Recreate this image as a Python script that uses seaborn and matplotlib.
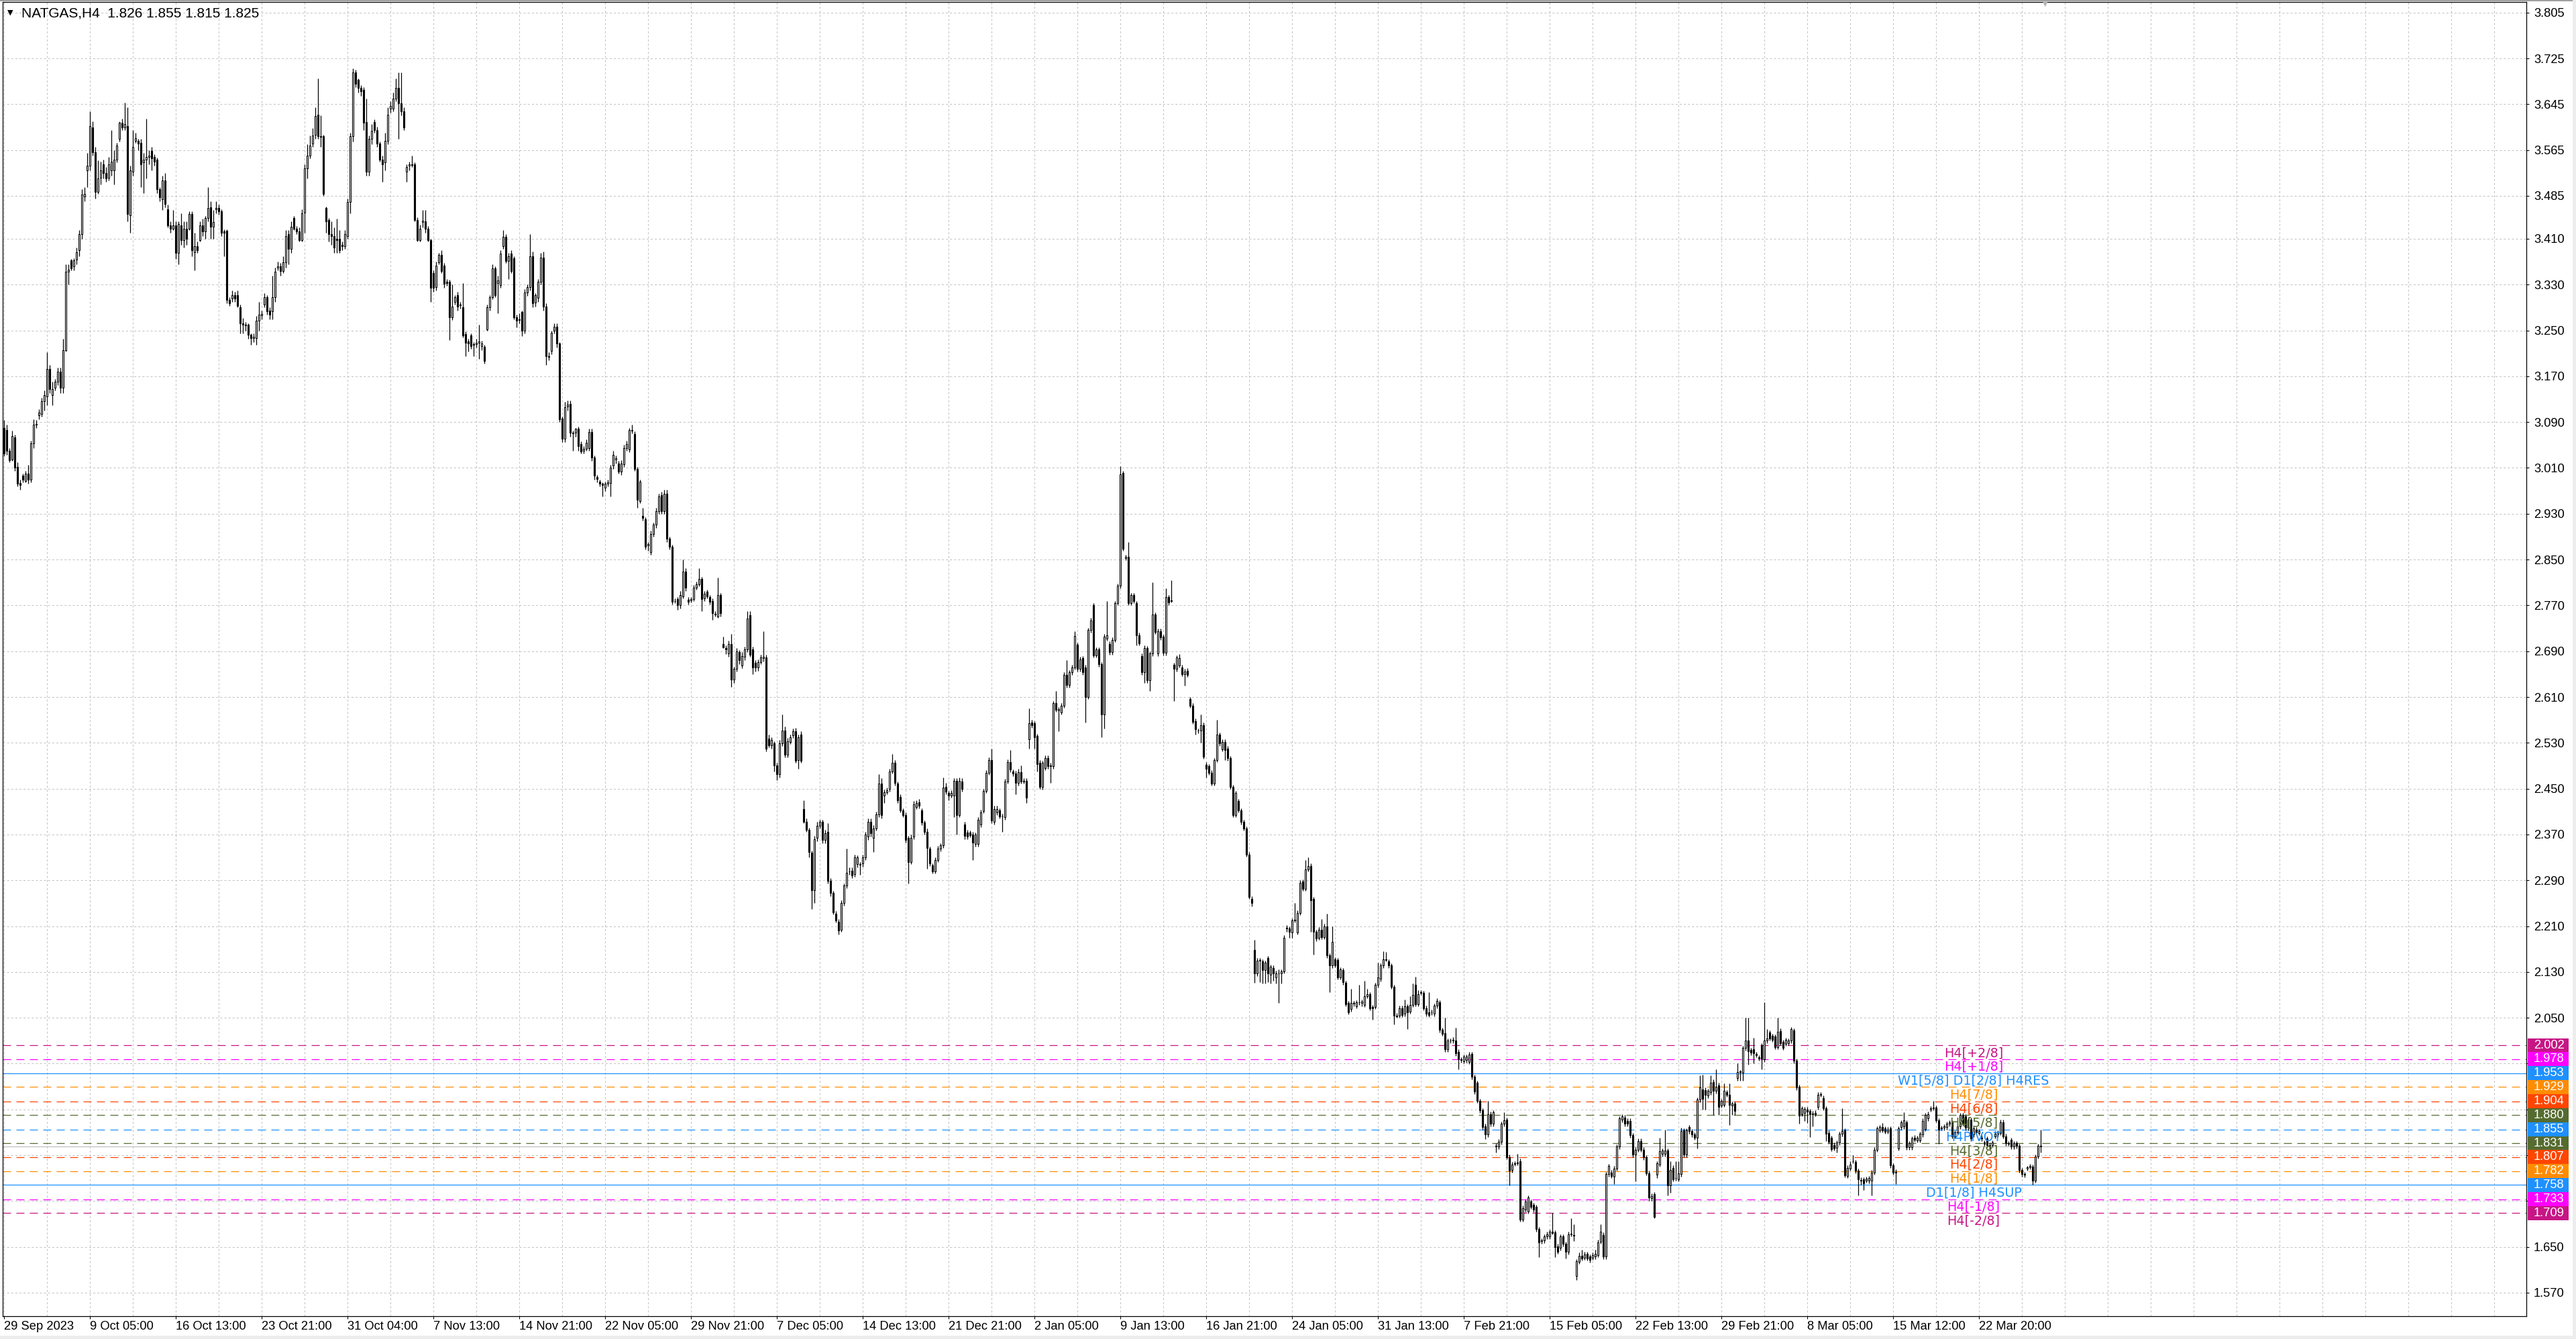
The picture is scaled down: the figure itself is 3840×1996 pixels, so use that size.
import numpy as np
import pandas as pd
import seaborn as sns
import matplotlib
matplotlib.use("Agg")
import matplotlib.pyplot as plt
from matplotlib.patches import Rectangle
import matplotlib.transforms as mtransforms

# ---------------- data (prices in thousandths) ----------------
header_text = "NATGAS,H4  1.826 1.855 1.815 1.825"

opens = [
3080,3076,3040,3025,3063,3012,2984,2997,2987,3000,
2989,3053,3086,3102,3104,3127,3135,3183,3137,3150,
3160,3178,3150,3216,3352,3372,3362,3374,3390,3418,
3484,3530,3538,3604,3561,3492,3517,3540,3525,3517,
3530,3530,3548,3584,3612,3604,3607,3451,3527,3581,
3581,3578,3543,3548,3553,3563,3553,3548,3497,3479,
3512,3461,3433,3428,3433,3385,3433,3408,3428,3428,
3453,3387,3397,3408,3433,3423,3446,3465,3431,3461,
3464,3458,3423,3424,3303,3306,3311,3311,3290,3262,
3260,3260,3243,3237,3237,3267,3276,3295,3308,3285,
3283,3308,3360,3362,3354,3369,3418,3392,3446,3428,
3423,3408,3456,3533,3555,3576,3591,3627,3589,3589,
3464,3443,3418,3415,3410,3410,3400,3397,3415,3474,
3589,3701,3688,3673,3670,3614,3527,3584,3614,3600,
3576,3548,3543,3581,3637,3637,3655,3673,3647,3632,
3527,3538,3540,3540,3443,3408,3439,3441,3428,3408,
3350,3326,3369,3382,3363,3335,3335,3273,3300,3312,
3294,3290,3244,3231,3241,3225,3226,3229,3222,3221,
3252,3290,3308,3358,3333,3329,3397,3414,3371,3384,
3376,3273,3268,3282,3250,3316,3326,3380,3299,3307,
3335,3377,3292,3205,3214,3250,3256,3227,3096,3061,
3117,3122,3071,3071,3078,3052,3040,3043,3045,3073,
3028,2994,2986,2982,2976,2983,2984,3014,3025,3018,
3003,3016,3045,3042,3075,3069,3008,2952,2926,2920,
2875,2863,2895,2911,2935,2963,2935,2965,2886,2872,
2778,2781,2771,2786,2829,2780,2779,2781,2801,2807,
2816,2782,2794,2784,2778,2755,2750,2788,2702,2695,
2686,2702,2640,2659,2688,2665,2680,2693,2753,2693,
2670,2661,2671,2678,2679,2537,2526,2529,2491,2475,
2529,2552,2509,2532,2543,2550,2500,2545,2415,2392,
2378,2338,2273,2364,2385,2392,2360,2375,2289,2268,
2232,2218,2204,2251,2281,2305,2307,2301,2318,2317,
2319,2330,2366,2392,2364,2381,2405,2459,2438,2444,
2449,2480,2495,2459,2435,2412,2404,2364,2322,2366,
2418,2426,2412,2391,2375,2345,2316,2306,2326,2345,
2351,2453,2442,2438,2438,2464,2404,2462,2387,2373,
2373,2370,2353,2353,2387,2411,2446,2478,2500,2392,
2408,2412,2402,2400,2463,2497,2480,2477,2460,2479,
2463,2464,2536,2565,2564,2542,2495,2453,2486,2504,
2491,2489,2599,2587,2583,2595,2649,2631,2653,2662,
2701,2659,2678,2662,2610,2727,2770,2683,2693,2667,
2580,2712,2703,2688,2710,2774,2804,3001,2853,2855,
2774,2788,2774,2718,2682,2653,2695,2639,2686,2754,
2686,2725,2715,2687,2784,2779,2666,2659,2665,2662,
2650,2656,2606,2595,2568,2551,2551,2561,2492,2489,
2478,2459,2500,2544,2519,2532,2520,2503,2453,2404,
2428,2412,2392,2380,2335,2258,2169,2127,2150,2148,
2133,2154,2125,2137,2120,2128,2128,2131,2206,2206,
2199,2220,2199,2233,2288,2275,2309,2315,2257,2200,
2190,2204,2191,2210,2159,2141,2152,2151,2121,2133,
2111,2076,2065,2076,2070,2077,2076,2073,2088,2091,
2069,2069,2107,2118,2141,2152,2148,2141,2104,2054,
2054,2067,2057,2070,2061,2073,2107,2074,2094,2093,
2067,2059,2060,2057,2071,2077,2029,2023,1995,2010,
2010,2010,1991,1977,1974,1976,1973,1987,1947,1936,
1905,1888,1861,1846,1882,1865,1827,1825,1833,1865,
1872,1807,1784,1795,1796,1800,1698,1715,1712,1729,
1723,1720,1681,1661,1661,1668,1668,1676,1675,1651,
1648,1668,1655,1641,1672,1671,1599,1624,1634,1631,
1638,1633,1631,1633,1636,1659,1671,1633,1777,1780,
1773,1787,1825,1872,1876,1870,1870,1845,1811,1820,
1835,1820,1806,1779,1735,1742,1776,1794,1812,1812,
1818,1757,1788,1770,1768,1777,1853,1811,1859,1852,
1846,1841,1907,1925,1924,1914,1920,1938,1922,1932,
1897,1898,1920,1915,1897,1900,1945,1955,1954,1997,
2010,1994,1995,1987,1981,2002,1977,2010,2024,2018,
2017,1999,2027,2008,2005,2006,2010,2028,1975,1929,
1882,1884,1890,1887,1883,1884,1894,1916,1910,1892,
1849,1840,1828,1823,1832,1847,1853,1774,1787,1800,
1798,1783,1767,1768,1766,1765,1765,1780,1820,1854,
1859,1857,1851,1857,1792,1781,1822,1859,1860,1867,
1824,1824,1841,1836,1836,1846,1856,1874,1890,1892,
1893,1871,1857,1858,1859,1865,1867,1843,1850,1860,
1880,1878,1858,1872,1846,1855,1849,1841,1832,1839,
1828,1828,1843,1846,1849,1868,1843,1831,1837,1825,
1831,1826,1784,1777,1787,1789,1790,1766,1808,1826,
]

highs = [
3094,3085,3044,3075,3068,3020,2990,3000,3005,3015,
3058,3095,3094,3112,3132,3145,3212,3190,3160,3165,
3185,3185,3235,3365,3365,3375,3376,3395,3425,3497,
3500,3560,3632,3615,3570,3547,3545,3548,3535,3553,
3600,3565,3578,3615,3620,3648,3640,3538,3600,3595,
3585,3585,3560,3620,3565,3570,3558,3552,3500,3520,
3525,3470,3440,3460,3440,3440,3455,3440,3440,3458,
3458,3420,3405,3440,3445,3450,3500,3475,3460,3475,
3470,3462,3426,3426,3308,3320,3318,3320,3295,3272,
3265,3262,3245,3245,3275,3300,3285,3315,3312,3290,
3345,3360,3370,3368,3380,3425,3425,3440,3450,3432,
3430,3462,3540,3575,3590,3603,3640,3690,3625,3592,
3466,3446,3440,3430,3445,3425,3405,3425,3480,3595,
3708,3705,3690,3678,3675,3655,3590,3610,3618,3605,
3580,3555,3595,3640,3650,3665,3690,3700,3700,3640,
3540,3545,3555,3543,3447,3435,3460,3460,3432,3410,
3355,3370,3385,3390,3368,3340,3338,3330,3312,3318,
3300,3333,3248,3235,3245,3230,3235,3260,3232,3225,
3295,3312,3365,3362,3345,3390,3425,3418,3385,3390,
3380,3278,3280,3285,3322,3330,3418,3388,3315,3340,
3385,3388,3298,3212,3250,3262,3262,3230,3100,3125,
3128,3128,3075,3080,3082,3056,3048,3060,3078,3078,
3032,2998,2990,2985,2986,2990,3015,3040,3032,3022,
3024,3050,3058,3080,3085,3074,3012,2990,2940,2924,
2880,2900,2915,2940,2965,2968,2972,2972,2890,2876,
2782,2784,2795,2850,2835,2784,2785,2806,2812,2835,
2820,2795,2798,2788,2782,2760,2818,2792,2715,2700,
2708,2720,2663,2695,2692,2688,2698,2760,2760,2698,
2675,2676,2684,2725,2684,2545,2540,2533,2495,2535,
2580,2558,2538,2545,2555,2556,2545,2550,2430,2398,
2382,2342,2368,2392,2396,2396,2378,2390,2294,2272,
2236,2222,2255,2285,2345,2312,2312,2335,2334,2322,
2335,2375,2398,2398,2386,2410,2475,2468,2448,2452,
2485,2510,2500,2463,2440,2416,2408,2368,2370,2428,
2430,2432,2416,2395,2380,2349,2320,2330,2350,2355,
2470,2460,2446,2447,2468,2468,2470,2468,2392,2378,
2377,2375,2374,2400,2413,2450,2482,2505,2520,2420,
2420,2416,2406,2467,2501,2518,2484,2481,2485,2490,
2468,2468,2590,2570,2568,2546,2500,2499,2508,2508,
2495,2603,2620,2593,2599,2653,2675,2657,2666,2725,
2705,2680,2682,2666,2731,2748,2774,2697,2697,2671,
2720,2778,2707,2714,2778,2808,3013,3005,2858,2880,
2792,2792,2778,2722,2686,2700,2699,2690,2810,2758,
2729,2729,2719,2800,2788,2814,2670,2683,2685,2666,
2659,2660,2610,2599,2572,2555,2580,2565,2496,2493,
2482,2504,2570,2548,2536,2536,2524,2507,2457,2446,
2432,2416,2396,2384,2339,2262,2186,2154,2154,2152,
2150,2158,2143,2141,2132,2135,2134,2194,2212,2210,
2224,2250,2237,2290,2292,2325,2330,2319,2261,2204,
2208,2222,2214,2232,2163,2210,2156,2155,2138,2137,
2115,2080,2100,2080,2081,2108,2082,2115,2100,2095,
2073,2111,2146,2145,2166,2165,2152,2145,2108,2058,
2071,2071,2082,2074,2088,2110,2122,2098,2098,2097,
2071,2095,2064,2075,2084,2081,2033,2050,2014,2014,
2016,2033,1995,1981,1986,1986,1990,1991,1951,1940,
1909,1892,1865,1905,1886,1889,1831,1838,1869,1885,
1876,1811,1798,1799,1813,1804,1722,1733,1740,1733,
1727,1724,1685,1665,1672,1676,1680,1709,1679,1655,
1672,1672,1659,1676,1700,1690,1629,1640,1645,1641,
1642,1637,1640,1645,1662,1690,1675,1781,1795,1784,
1791,1829,1878,1882,1880,1874,1874,1849,1824,1839,
1839,1824,1810,1783,1743,1746,1800,1840,1822,1855,
1822,1800,1792,1800,1800,1858,1857,1857,1863,1856,
1850,1911,1950,1951,1928,1926,1950,1942,1960,1936,
1909,1935,1924,1935,1904,1904,1970,1959,2001,2050,
2050,1998,2015,1991,1985,2006,2077,2030,2028,2022,
2021,2050,2031,2012,2015,2014,2034,2032,1979,1933,
1896,1895,1894,1891,1887,1888,1920,1920,1914,1896,
1853,1844,1832,1836,1851,1892,1857,1792,1800,1810,
1802,1787,1771,1772,1773,1774,1784,1824,1861,1863,
1866,1861,1859,1861,1796,1785,1861,1871,1885,1871,
1835,1843,1845,1844,1851,1874,1884,1886,1896,1905,
1897,1875,1862,1864,1869,1871,1871,1854,1864,1884,
1884,1882,1876,1876,1861,1859,1856,1845,1836,1843,
1832,1836,1852,1853,1872,1872,1847,1835,1841,1835,
1835,1830,1788,1781,1791,1795,1794,1811,1830,1855,
]

lows = [
3030,3033,3020,3022,3005,2978,2972,2985,2985,2983,
2985,3045,3080,3095,3100,3110,3120,3140,3120,3145,
3155,3140,3140,3213,3330,3355,3355,3365,3380,3410,
3475,3500,3530,3555,3480,3489,3505,3515,3510,3512,
3520,3505,3543,3580,3600,3600,3440,3420,3520,3578,
3565,3500,3490,3515,3540,3530,3538,3490,3475,3460,
3465,3430,3420,3425,3375,3365,3400,3395,3400,3425,
3380,3355,3385,3405,3415,3410,3440,3410,3410,3455,
3452,3415,3380,3298,3293,3300,3300,3290,3245,3245,
3250,3235,3225,3230,3225,3250,3270,3290,3278,3270,
3270,3300,3355,3345,3350,3360,3365,3385,3425,3418,
3405,3405,3420,3515,3550,3570,3585,3585,3570,3485,
3420,3405,3400,3385,3385,3385,3390,3392,3410,3455,
3580,3675,3665,3660,3600,3520,3520,3575,3595,3570,
3545,3510,3530,3575,3630,3632,3650,3585,3625,3600,
3510,3530,3535,3440,3405,3405,3430,3420,3405,3300,
3318,3320,3365,3350,3325,3328,3233,3268,3295,3285,
3288,3238,3205,3213,3218,3205,3220,3200,3215,3192,
3250,3285,3305,3308,3280,3325,3392,3368,3340,3350,
3270,3255,3262,3240,3245,3310,3320,3290,3292,3300,
3330,3285,3190,3198,3208,3245,3220,3090,3055,3055,
3110,3065,3040,3065,3040,3035,3035,3040,3040,3022,
2990,2985,2978,2960,2970,2978,2960,3008,3018,3000,
2998,3012,3040,3038,3070,3005,2940,2948,2918,2868,
2865,2858,2890,2905,2930,2930,2930,2880,2868,2772,
2774,2762,2765,2782,2795,2772,2775,2778,2798,2803,
2760,2778,2782,2772,2745,2750,2748,2750,2695,2685,
2680,2628,2635,2655,2668,2660,2675,2688,2680,2650,
2655,2656,2668,2672,2515,2522,2520,2480,2465,2470,
2525,2505,2505,2528,2538,2495,2485,2495,2390,2375,
2330,2240,2250,2358,2380,2355,2355,2285,2262,2230,
2216,2195,2200,2246,2276,2300,2294,2296,2312,2300,
2314,2326,2361,2366,2340,2377,2400,2398,2425,2440,
2445,2476,2455,2425,2408,2400,2356,2285,2318,2362,
2414,2416,2386,2370,2310,2315,2302,2302,2322,2341,
2347,2440,2430,2434,2400,2370,2400,2445,2362,2362,
2365,2325,2349,2349,2383,2407,2442,2474,2390,2388,
2404,2398,2375,2396,2459,2479,2472,2440,2456,2459,
2459,2425,2520,2556,2520,2480,2449,2448,2482,2485,
2460,2485,2584,2550,2579,2591,2627,2627,2649,2658,
2655,2655,2649,2565,2606,2723,2679,2679,2663,2540,
2555,2708,2684,2684,2706,2770,2800,2865,2849,2770,
2770,2774,2700,2700,2649,2635,2635,2620,2682,2720,
2682,2710,2683,2683,2771,2775,2603,2655,2661,2646,
2630,2645,2591,2563,2545,2547,2530,2502,2470,2474,
2455,2455,2496,2525,2515,2500,2499,2449,2400,2400,
2408,2388,2377,2331,2257,2245,2111,2123,2112,2110,
2110,2112,2110,2115,2110,2076,2110,2127,2200,2190,
2190,2216,2195,2229,2271,2271,2305,2200,2160,2184,
2186,2187,2187,2155,2095,2137,2138,2117,2117,2108,
2070,2056,2061,2070,2066,2073,2070,2069,2084,2063,
2047,2065,2103,2114,2137,2148,2137,2100,2039,2050,
2050,2051,2053,2030,2057,2069,2070,2070,2090,2063,
2053,2051,2055,2053,2067,2025,2018,1991,1991,2006,
2006,1984,1960,1972,1970,1972,1969,1943,1917,1901,
1884,1855,1838,1842,1861,1861,1815,1821,1829,1861,
1803,1757,1780,1791,1792,1694,1694,1711,1708,1716,
1711,1677,1632,1656,1657,1664,1664,1672,1632,1638,
1644,1651,1630,1637,1668,1660,1592,1620,1626,1627,
1626,1623,1627,1629,1632,1655,1629,1629,1773,1770,
1760,1783,1821,1868,1861,1861,1841,1807,1764,1816,
1816,1802,1775,1731,1731,1700,1770,1790,1808,1808,
1740,1745,1764,1766,1764,1773,1807,1807,1848,1842,
1837,1822,1903,1890,1890,1910,1916,1880,1918,1880,
1893,1894,1912,1863,1880,1880,1940,1940,1940,1993,
1968,1985,1970,1981,1975,1960,1973,2006,2010,2008,
1995,1995,2002,1994,2001,2002,2006,1971,1924,1865,
1878,1870,1866,1842,1860,1878,1890,1912,1888,1835,
1830,1817,1818,1815,1828,1843,1771,1770,1783,1796,
1779,1740,1758,1749,1762,1761,1740,1776,1816,1850,
1850,1847,1847,1788,1776,1760,1818,1855,1856,1820,
1820,1820,1833,1832,1832,1842,1852,1870,1886,1888,
1867,1830,1853,1854,1855,1861,1839,1839,1846,1856,
1862,1854,1854,1835,1842,1846,1845,1835,1826,1824,
1821,1824,1839,1842,1845,1839,1827,1826,1821,1821,
1822,1780,1773,1772,1783,1785,1759,1762,1804,1815,
]

closes = [
3035,3040,3023,3066,3010,2982,2980,2989,3000,2990,
3053,3086,3087,3107,3127,3137,3183,3148,3148,3160,
3178,3150,3216,3352,3356,3359,3372,3387,3418,3487,
3489,3538,3607,3561,3492,3515,3530,3525,3515,3540,
3545,3548,3573,3612,3604,3610,3453,3530,3571,3586,
3576,3540,3548,3553,3555,3550,3545,3497,3482,3512,
3471,3433,3428,3433,3385,3436,3408,3428,3410,3453,
3390,3397,3390,3433,3423,3446,3464,3431,3439,3464,
3458,3420,3421,3303,3298,3311,3306,3293,3262,3260,
3259,3242,3237,3239,3267,3278,3279,3308,3283,3278,
3308,3352,3362,3354,3369,3415,3392,3431,3428,3423,
3408,3455,3533,3555,3573,3590,3624,3589,3588,3489,
3441,3418,3415,3395,3408,3390,3397,3418,3474,3589,
3701,3680,3673,3668,3612,3527,3584,3599,3600,3576,
3548,3540,3581,3627,3642,3655,3673,3647,3632,3604,
3535,3540,3539,3443,3408,3428,3442,3428,3408,3325,
3325,3363,3382,3354,3331,3333,3273,3292,3308,3292,
3295,3241,3229,3227,3222,3226,3229,3231,3227,3197,
3290,3308,3358,3312,3337,3384,3414,3371,3380,3354,
3273,3267,3270,3250,3316,3326,3380,3297,3312,3335,
3377,3292,3205,3204,3246,3256,3227,3095,3061,3116,
3121,3071,3070,3078,3048,3039,3043,3054,3073,3028,
2997,2991,2982,2980,2982,2985,3011,3033,3027,3003,
3018,3045,3052,3076,3076,3008,2954,2986,2923,2872,
2877,2895,2911,2935,2960,2935,2965,2886,2872,2776,
2778,2770,2788,2829,2801,2776,2781,2801,2807,2816,
2781,2790,2786,2776,2756,2754,2788,2756,2697,2693,
2702,2640,2659,2690,2675,2682,2693,2747,2684,2662,
2661,2671,2679,2680,2520,2526,2535,2491,2475,2529,
2552,2509,2533,2540,2550,2499,2540,2499,2392,2378,
2339,2273,2362,2385,2392,2361,2372,2289,2268,2234,
2220,2202,2251,2281,2303,2306,2299,2330,2330,2318,
2330,2370,2392,2372,2381,2405,2459,2404,2444,2447,
2480,2495,2460,2430,2412,2404,2361,2322,2364,2423,
2425,2420,2391,2375,2347,2319,2306,2326,2345,2351,
2452,2445,2438,2443,2464,2404,2464,2449,2368,2367,
2369,2356,2370,2396,2409,2446,2478,2500,2395,2415,
2415,2402,2401,2463,2497,2483,2476,2460,2479,2463,
2464,2434,2564,2561,2540,2493,2453,2495,2504,2489,
2489,2599,2588,2589,2595,2649,2631,2653,2662,2717,
2659,2676,2653,2610,2727,2744,2683,2693,2667,2580,
2716,2718,2688,2710,2774,2804,2999,2869,2855,2774,
2788,2778,2718,2704,2653,2696,2639,2686,2754,2724,
2725,2714,2687,2784,2775,2778,2659,2679,2678,2650,
2655,2649,2595,2567,2554,2551,2561,2506,2485,2478,
2459,2500,2544,2529,2532,2518,2503,2453,2404,2442,
2412,2392,2381,2335,2261,2250,2127,2150,2151,2133,
2146,2127,2139,2127,2128,2127,2131,2190,2207,2200,
2220,2221,2233,2286,2275,2309,2315,2255,2200,2188,
2204,2191,2210,2159,2141,2182,2142,2121,2134,2112,
2074,2060,2076,2075,2077,2077,2078,2088,2091,2067,
2066,2107,2120,2141,2152,2151,2141,2104,2054,2053,
2067,2055,2070,2060,2073,2090,2074,2091,2095,2067,
2057,2055,2059,2071,2080,2029,2022,1995,2010,2010,
2011,1988,1978,1976,1982,1982,1986,1947,1921,1905,
1888,1859,1846,1882,1865,1885,1825,1834,1865,1871,
1807,1783,1794,1796,1797,1698,1718,1729,1736,1720,
1715,1681,1658,1660,1668,1672,1676,1674,1650,1642,
1668,1655,1641,1672,1673,1669,1625,1634,1630,1637,
1630,1627,1636,1638,1658,1676,1633,1777,1791,1774,
1787,1825,1874,1878,1865,1865,1845,1811,1820,1835,
1820,1806,1779,1736,1739,1702,1796,1817,1818,1818,
1757,1784,1768,1770,1779,1852,1811,1853,1852,1846,
1841,1907,1928,1908,1915,1922,1937,1922,1930,1895,
1905,1922,1916,1898,1900,1887,1955,1956,1997,2010,
1992,1989,1988,1985,1979,1979,2010,2014,2014,2012,
1999,2026,2006,1998,2011,2010,2030,1975,1928,1879,
1892,1891,1886,1881,1882,1882,1916,1917,1892,1847,
1834,1821,1822,1832,1847,1852,1775,1788,1794,1800,
1783,1768,1765,1761,1769,1770,1780,1820,1857,1859,
1854,1851,1855,1792,1780,1780,1857,1867,1871,1824,
1831,1839,1837,1840,1847,1870,1880,1882,1892,1893,
1871,1855,1858,1860,1865,1867,1843,1850,1860,1880,
1866,1858,1872,1839,1857,1850,1852,1839,1830,1828,
1825,1832,1848,1849,1868,1843,1831,1830,1825,1831,
1826,1784,1777,1776,1789,1791,1766,1808,1826,1825,
]

time_labels = ["29 Sep 2023", "9 Oct 05:00", "16 Oct 13:00", "23 Oct 21:00",
               "31 Oct 04:00", "7 Nov 13:00", "14 Nov 21:00", "22 Nov 05:00",
               "29 Nov 21:00", "7 Dec 05:00", "14 Dec 13:00", "21 Dec 21:00",
               "2 Jan 05:00", "9 Jan 13:00", "16 Jan 21:00", "24 Jan 05:00",
               "31 Jan 13:00", "7 Feb 21:00", "15 Feb 05:00", "22 Feb 13:00",
               "29 Feb 21:00", "8 Mar 05:00", "15 Mar 12:00", "22 Mar 20:00"]
bars_per_label = 32
bars_per_grid = 16

price_ticks = [3.805, 3.725, 3.645, 3.565, 3.485, 3.410, 3.330, 3.250, 3.170,
               3.090, 3.010, 2.930, 2.850, 2.770, 2.690, 2.610, 2.530, 2.450,
               2.370, 2.290, 2.210, 2.130, 2.050, 1.970, 1.890, 1.810, 1.730,
               1.650, 1.570]
price_tick_labels = ["3.805", "3.725", "3.645", "3.565", "3.485", "3.410", "3.330",
                     "3.250", "3.170", "3.090", "3.010", "2.930", "2.850", "2.770",
                     "2.690", "2.610", "2.530", "2.450", "2.370", "2.290", "2.210",
                     "2.130", "2.050", "", "", "", "", "1.650", "1.570"]

level_values = [2.002, 1.978, 1.953, 1.929, 1.904, 1.880, 1.855, 1.831,
                1.807, 1.782, 1.758, 1.733, 1.709]
level_names = ["H4[+2/8]", "H4[+1/8]", "W1[5/8] D1[2/8] H4RES", "H4[7/8]",
               "H4[6/8]", "H4[5/8]", "H4PIVOT", "H4[3/8]", "H4[2/8]", "H4[1/8]",
               "D1[1/8] H4SUP", "H4[-1/8]", "H4[-2/8]"]
level_colors = ["#C71585", "#FF00FF", "#1E90FF", "#FF8C00", "#FF4500", "#556B2F",
                "#1E90FF", "#556B2F", "#FF4500", "#FF8C00", "#1E90FF", "#FF00FF",
                "#C71585"]
level_solid = [False, False, True, False, False, False, False, False, False,
               False, True, False, False]
bid_price = 1.825

# ---------------- style ----------------
sns.set_theme(style="white")
plt.rcParams['font.family'] = ['Liberation Sans', 'DejaVu Sans']
plt.rcParams['lines.scale_dashes'] = False

W, H, DPI = 3840, 1996, 100
fig = plt.figure(figsize=(W / DPI, H / DPI), dpi=DPI, facecolor="white")
L_PX, R_PX, T_PX, B_PX = 4, 3766, 3, 1962
ax = fig.add_axes([L_PX / W, 1 - B_PX / H, (R_PX - L_PX) / W, (B_PX - T_PX) / H])
ax.set_facecolor("white")

n = min(len(opens), len(highs), len(lows), len(closes))
df = pd.DataFrame({
    "bar": np.arange(n),
    "open": np.array(opens[:n]) / 1000.0,
    "high": np.array(highs[:n]) / 1000.0,
    "low": np.array(lows[:n]) / 1000.0,
    "close": np.array(closes[:n]) / 1000.0,
})
df["body_lo"] = df[["open", "close"]].min(axis=1)
df["body_hi"] = df[["open", "close"]].max(axis=1)
df["wick_hi"] = np.maximum(df["high"], df["body_hi"])
df["wick_lo"] = np.minimum(df["low"], df["body_lo"])
df["bull"] = df["close"] >= df["open"]

grid_kw = dict(color="#C4C4C4", linestyle=(0, (2.2, 2.2)), linewidth=0.75)

# wicks
ax.vlines(df["bar"], df["wick_lo"], df["wick_hi"], colors="black", linewidth=0.9, zorder=3)
# bodies
bu = df[df["bull"]]
be = df[~df["bull"]]
ax.bar(bu["bar"], bu["body_hi"] - bu["body_lo"], bottom=bu["body_lo"], width=0.5,
       facecolor="white", edgecolor="black", linewidth=0.8, zorder=4)
ax.bar(be["bar"], be["body_hi"] - be["body_lo"], bottom=be["body_lo"], width=0.5,
       facecolor="black", edgecolor="black", linewidth=0.8, zorder=4)

# levels
for v, c, solid in zip(level_values, level_colors, level_solid):
    ls = "-" if solid else (0, (8.6, 5.8))
    ax.axhline(v, color=c, linewidth=0.9, linestyle=ls, zorder=2)
ax.axhline(bid_price, color="#C0C0C0", linewidth=0.9, zorder=2)

ax.set_xlim(-0.5, 940)
ax.set_ylim(1.5290, 3.8234)

# x ticks
major = [bars_per_label * k for k in range(len(time_labels))]
ax.set_xticks(major)
ax.set_xticklabels(time_labels)
for lbl in ax.get_xticklabels():
    lbl.set_horizontalalignment("left")
ax.set_xticks(np.arange(0, 941, bars_per_grid), minor=True)
ax.tick_params(axis="x", which="major", direction="out", length=3, width=0.8,
               pad=2, labelsize=13.2, colors="black", bottom=True)
ax.tick_params(axis="x", which="minor", length=0)
ax.grid(True, which="both", axis="x", **grid_kw)

# y ticks on the right
ax.yaxis.tick_right()
ax.set_yticks(price_ticks)
ax.set_yticklabels(price_tick_labels)
ax.tick_params(axis="y", which="major", direction="out", length=3, width=0.8,
               pad=5, labelsize=13.2, colors="black", right=True, left=False)
ax.grid(True, which="major", axis="y", **grid_kw)
ax.set_axisbelow(True)

for sp in ax.spines.values():
    sp.set_color("black")
    sp.set_linewidth(0.9)
    sp.set_visible(True)

# right-side price boxes
blend = mtransforms.blended_transform_factory(ax.transAxes, ax.transData)
box_x0 = (3768 - L_PX) / (R_PX - L_PX)
box_w = (3829 - 3768) / (R_PX - L_PX)
txt_x = (3777 - L_PX) / (R_PX - L_PX)
for v, c in zip(level_values, level_colors):
    ax.add_patch(Rectangle((box_x0, v - 0.01235), box_w, 0.0247, transform=blend,
                           facecolor=c, edgecolor="none", clip_on=False, zorder=6))
    ax.text(txt_x, v, f"{v:.3f}", transform=blend, color="white", fontsize=13.2,
            ha="left", va="center", clip_on=False, zorder=7)

# level labels
for v, c, name in zip(level_values, level_colors, level_names):
    ax.annotate(name, xy=(734, v), xytext=(0, -2), textcoords="offset pixels",
                ha="center", va="top", color=c, fontsize=13.8,
                family=["DejaVu Sans"], zorder=8)

# header
fig.text(15 / W, 1 - 19 / H, "\u25BC", fontsize=8, ha="center", va="center",
         color="black", family=["DejaVu Sans"])
fig.text(32 / W, 1 - 19.5 / H, header_text, fontsize=15, ha="left", va="center",
         color="black")
# chart shift marker
fig.text(3049 / W, 1 - 6 / H, "\u25BC", fontsize=7, ha="center", va="center",
         color="#B0B0B0", family=["DejaVu Sans"])

# window frame
fig.add_artist(Rectangle((0, 1 - 2 / H), 1, 2 / H, transform=fig.transFigure,
                         facecolor="#A0A0A0", edgecolor="none"))
fig.add_artist(Rectangle((0, 0), 1, 5 / H, transform=fig.transFigure,
                         facecolor="#EDEDED", edgecolor="none"))
fig.add_artist(Rectangle((3835 / W, 0), 5 / W, 1, transform=fig.transFigure,
                         facecolor="#EDEDED", edgecolor="none"))

fig.savefig("out.png", dpi=DPI, facecolor="white")
